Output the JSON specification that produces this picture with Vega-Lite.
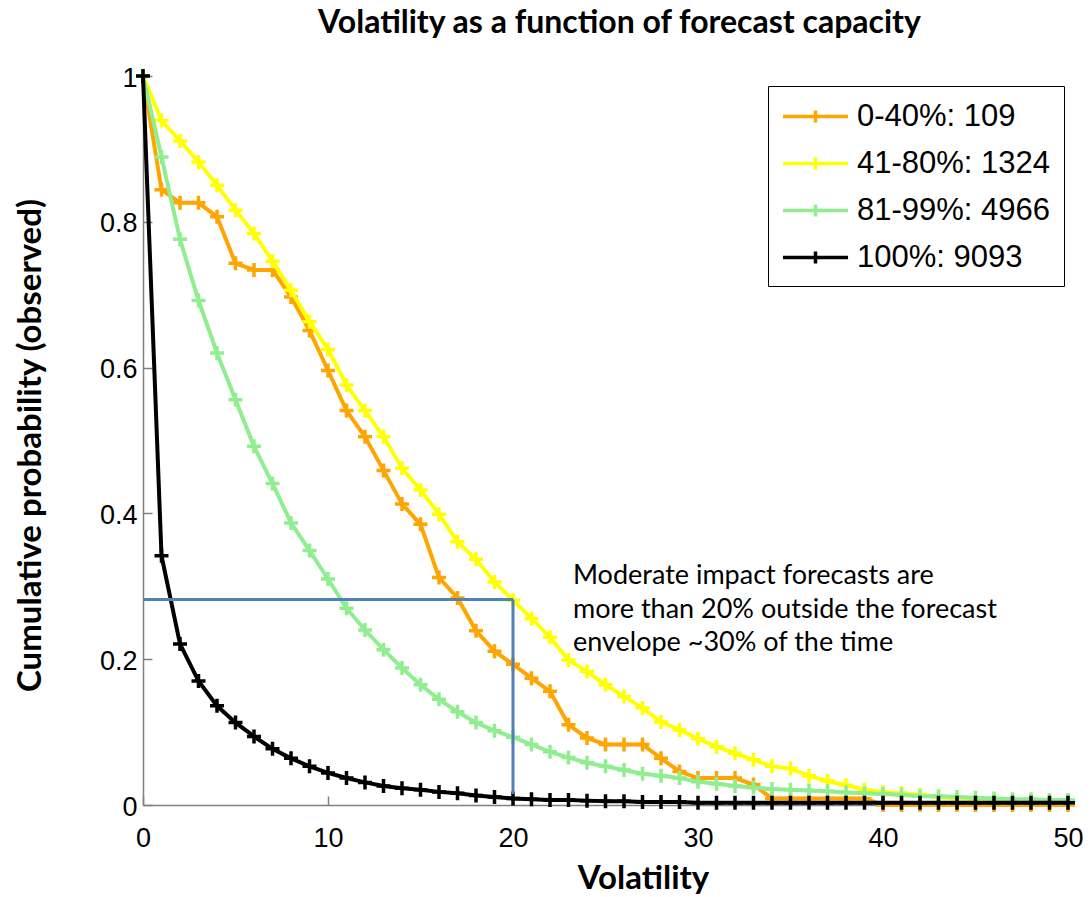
{
  "$schema": "https://vega.github.io/schema/vega-lite/v6.json",
  "width": 925,
  "height": 729,
  "autosize": {"type": "none"},
  "padding": {"left": 143, "top": 76, "right": 22, "bottom": 92},
  "background": "white",
  "title": {
    "text": "Volatility as a function of forecast capacity",
    "font": "Lato",
    "fontSize": 32,
    "fontWeight": "bold",
    "color": "black",
    "anchor": "middle",
    "frame": "group",
    "baseline": "alphabetic",
    "offset": -3,
    "dx": 14
  },
  "config": {
    "view": {"stroke": null},
    "axis": {
      "grid": false,
      "domainColor": "#808080",
      "domainWidth": 1.5,
      "tickColor": "#808080",
      "tickWidth": 1.5,
      "tickSize": -9,
      "labelFont": "Liberation Sans",
      "labelFontSize": 27,
      "labelColor": "black",
      "labelFlush": false,
      "titleFont": "Lato",
      "titleFontSize": 33,
      "titleFontWeight": "bold",
      "titleColor": "black"
    }
  },
  "datasets": {
    "curves": [
      {"v": 0, "p": 1.0, "g": "0-40%: 109"}, {"v": 1, "p": 0.844, "g": "0-40%: 109"}, {"v": 2, "p": 0.826, "g": "0-40%: 109"}, {"v": 3, "p": 0.826, "g": "0-40%: 109"}, {"v": 4, "p": 0.807, "g": "0-40%: 109"}, {"v": 5, "p": 0.743, "g": "0-40%: 109"}, {"v": 6, "p": 0.734, "g": "0-40%: 109"}, {"v": 7, "p": 0.734, "g": "0-40%: 109"}, {"v": 8, "p": 0.697, "g": "0-40%: 109"}, {"v": 9, "p": 0.651, "g": "0-40%: 109"}, {"v": 10, "p": 0.596, "g": "0-40%: 109"}, {"v": 11, "p": 0.541, "g": "0-40%: 109"}, {"v": 12, "p": 0.505, "g": "0-40%: 109"}, {"v": 13, "p": 0.459, "g": "0-40%: 109"}, {"v": 14, "p": 0.413, "g": "0-40%: 109"}, {"v": 15, "p": 0.385, "g": "0-40%: 109"}, {"v": 16, "p": 0.312, "g": "0-40%: 109"}, {"v": 17, "p": 0.284, "g": "0-40%: 109"}, {"v": 18, "p": 0.239, "g": "0-40%: 109"}, {"v": 19, "p": 0.211, "g": "0-40%: 109"}, {"v": 20, "p": 0.193, "g": "0-40%: 109"}, {"v": 21, "p": 0.174, "g": "0-40%: 109"}, {"v": 22, "p": 0.156, "g": "0-40%: 109"}, {"v": 23, "p": 0.110, "g": "0-40%: 109"}, {"v": 24, "p": 0.092, "g": "0-40%: 109"}, {"v": 25, "p": 0.083, "g": "0-40%: 109"}, {"v": 26, "p": 0.083, "g": "0-40%: 109"}, {"v": 27, "p": 0.083, "g": "0-40%: 109"}, {"v": 28, "p": 0.064, "g": "0-40%: 109"}, {"v": 29, "p": 0.046, "g": "0-40%: 109"}, {"v": 30, "p": 0.037, "g": "0-40%: 109"}, {"v": 31, "p": 0.037, "g": "0-40%: 109"}, {"v": 32, "p": 0.037, "g": "0-40%: 109"}, {"v": 33, "p": 0.028, "g": "0-40%: 109"}, {"v": 34, "p": 0.009, "g": "0-40%: 109"}, {"v": 35, "p": 0.009, "g": "0-40%: 109"}, {"v": 36, "p": 0.009, "g": "0-40%: 109"}, {"v": 37, "p": 0.009, "g": "0-40%: 109"}, {"v": 38, "p": 0.009, "g": "0-40%: 109"}, {"v": 39, "p": 0.009, "g": "0-40%: 109"}, {"v": 40, "p": 0.0, "g": "0-40%: 109"}, {"v": 41, "p": 0.0, "g": "0-40%: 109"}, {"v": 42, "p": 0.0, "g": "0-40%: 109"}, {"v": 43, "p": 0.0, "g": "0-40%: 109"}, {"v": 44, "p": 0.0, "g": "0-40%: 109"}, {"v": 45, "p": 0.0, "g": "0-40%: 109"}, {"v": 46, "p": 0.0, "g": "0-40%: 109"}, {"v": 47, "p": 0.0, "g": "0-40%: 109"}, {"v": 48, "p": 0.0, "g": "0-40%: 109"}, {"v": 49, "p": 0.0, "g": "0-40%: 109"}, {"v": 50, "p": 0.0, "g": "0-40%: 109"},
      {"v": 0, "p": 1.0, "g": "41-80%: 1324"}, {"v": 1, "p": 0.939, "g": "41-80%: 1324"}, {"v": 2, "p": 0.911, "g": "41-80%: 1324"}, {"v": 3, "p": 0.882, "g": "41-80%: 1324"}, {"v": 4, "p": 0.850, "g": "41-80%: 1324"}, {"v": 5, "p": 0.816, "g": "41-80%: 1324"}, {"v": 6, "p": 0.784, "g": "41-80%: 1324"}, {"v": 7, "p": 0.746, "g": "41-80%: 1324"}, {"v": 8, "p": 0.706, "g": "41-80%: 1324"}, {"v": 9, "p": 0.663, "g": "41-80%: 1324"}, {"v": 10, "p": 0.625, "g": "41-80%: 1324"}, {"v": 11, "p": 0.576, "g": "41-80%: 1324"}, {"v": 12, "p": 0.541, "g": "41-80%: 1324"}, {"v": 13, "p": 0.505, "g": "41-80%: 1324"}, {"v": 14, "p": 0.462, "g": "41-80%: 1324"}, {"v": 15, "p": 0.432, "g": "41-80%: 1324"}, {"v": 16, "p": 0.399, "g": "41-80%: 1324"}, {"v": 17, "p": 0.361, "g": "41-80%: 1324"}, {"v": 18, "p": 0.337, "g": "41-80%: 1324"}, {"v": 19, "p": 0.306, "g": "41-80%: 1324"}, {"v": 20, "p": 0.281, "g": "41-80%: 1324"}, {"v": 21, "p": 0.256, "g": "41-80%: 1324"}, {"v": 22, "p": 0.230, "g": "41-80%: 1324"}, {"v": 23, "p": 0.199, "g": "41-80%: 1324"}, {"v": 24, "p": 0.183, "g": "41-80%: 1324"}, {"v": 25, "p": 0.165, "g": "41-80%: 1324"}, {"v": 26, "p": 0.149, "g": "41-80%: 1324"}, {"v": 27, "p": 0.133, "g": "41-80%: 1324"}, {"v": 28, "p": 0.114, "g": "41-80%: 1324"}, {"v": 29, "p": 0.103, "g": "41-80%: 1324"}, {"v": 30, "p": 0.091, "g": "41-80%: 1324"}, {"v": 31, "p": 0.080, "g": "41-80%: 1324"}, {"v": 32, "p": 0.071, "g": "41-80%: 1324"}, {"v": 33, "p": 0.062, "g": "41-80%: 1324"}, {"v": 34, "p": 0.053, "g": "41-80%: 1324"}, {"v": 35, "p": 0.050, "g": "41-80%: 1324"}, {"v": 36, "p": 0.040, "g": "41-80%: 1324"}, {"v": 37, "p": 0.033, "g": "41-80%: 1324"}, {"v": 38, "p": 0.027, "g": "41-80%: 1324"}, {"v": 39, "p": 0.021, "g": "41-80%: 1324"}, {"v": 40, "p": 0.018, "g": "41-80%: 1324"}, {"v": 41, "p": 0.016, "g": "41-80%: 1324"}, {"v": 42, "p": 0.014, "g": "41-80%: 1324"}, {"v": 43, "p": 0.011, "g": "41-80%: 1324"}, {"v": 44, "p": 0.009, "g": "41-80%: 1324"}, {"v": 45, "p": 0.008, "g": "41-80%: 1324"}, {"v": 46, "p": 0.007, "g": "41-80%: 1324"}, {"v": 47, "p": 0.006, "g": "41-80%: 1324"}, {"v": 48, "p": 0.005, "g": "41-80%: 1324"}, {"v": 49, "p": 0.005, "g": "41-80%: 1324"}, {"v": 50, "p": 0.004, "g": "41-80%: 1324"},
      {"v": 0, "p": 1.0, "g": "81-99%: 4966"}, {"v": 1, "p": 0.889, "g": "81-99%: 4966"}, {"v": 2, "p": 0.776, "g": "81-99%: 4966"}, {"v": 3, "p": 0.692, "g": "81-99%: 4966"}, {"v": 4, "p": 0.620, "g": "81-99%: 4966"}, {"v": 5, "p": 0.556, "g": "81-99%: 4966"}, {"v": 6, "p": 0.492, "g": "81-99%: 4966"}, {"v": 7, "p": 0.441, "g": "81-99%: 4966"}, {"v": 8, "p": 0.387, "g": "81-99%: 4966"}, {"v": 9, "p": 0.349, "g": "81-99%: 4966"}, {"v": 10, "p": 0.310, "g": "81-99%: 4966"}, {"v": 11, "p": 0.270, "g": "81-99%: 4966"}, {"v": 12, "p": 0.240, "g": "81-99%: 4966"}, {"v": 13, "p": 0.213, "g": "81-99%: 4966"}, {"v": 14, "p": 0.188, "g": "81-99%: 4966"}, {"v": 15, "p": 0.165, "g": "81-99%: 4966"}, {"v": 16, "p": 0.145, "g": "81-99%: 4966"}, {"v": 17, "p": 0.128, "g": "81-99%: 4966"}, {"v": 18, "p": 0.113, "g": "81-99%: 4966"}, {"v": 19, "p": 0.102, "g": "81-99%: 4966"}, {"v": 20, "p": 0.093, "g": "81-99%: 4966"}, {"v": 21, "p": 0.083, "g": "81-99%: 4966"}, {"v": 22, "p": 0.073, "g": "81-99%: 4966"}, {"v": 23, "p": 0.065, "g": "81-99%: 4966"}, {"v": 24, "p": 0.058, "g": "81-99%: 4966"}, {"v": 25, "p": 0.053, "g": "81-99%: 4966"}, {"v": 26, "p": 0.048, "g": "81-99%: 4966"}, {"v": 27, "p": 0.043, "g": "81-99%: 4966"}, {"v": 28, "p": 0.040, "g": "81-99%: 4966"}, {"v": 29, "p": 0.037, "g": "81-99%: 4966"}, {"v": 30, "p": 0.032, "g": "81-99%: 4966"}, {"v": 31, "p": 0.029, "g": "81-99%: 4966"}, {"v": 32, "p": 0.026, "g": "81-99%: 4966"}, {"v": 33, "p": 0.024, "g": "81-99%: 4966"}, {"v": 34, "p": 0.022, "g": "81-99%: 4966"}, {"v": 35, "p": 0.021, "g": "81-99%: 4966"}, {"v": 36, "p": 0.020, "g": "81-99%: 4966"}, {"v": 37, "p": 0.019, "g": "81-99%: 4966"}, {"v": 38, "p": 0.017, "g": "81-99%: 4966"}, {"v": 39, "p": 0.016, "g": "81-99%: 4966"}, {"v": 40, "p": 0.015, "g": "81-99%: 4966"}, {"v": 41, "p": 0.014, "g": "81-99%: 4966"}, {"v": 42, "p": 0.012, "g": "81-99%: 4966"}, {"v": 43, "p": 0.012, "g": "81-99%: 4966"}, {"v": 44, "p": 0.011, "g": "81-99%: 4966"}, {"v": 45, "p": 0.010, "g": "81-99%: 4966"}, {"v": 46, "p": 0.009, "g": "81-99%: 4966"}, {"v": 47, "p": 0.008, "g": "81-99%: 4966"}, {"v": 48, "p": 0.008, "g": "81-99%: 4966"}, {"v": 49, "p": 0.007, "g": "81-99%: 4966"}, {"v": 50, "p": 0.007, "g": "81-99%: 4966"},
      {"v": 0, "p": 1.0, "g": "100%: 9093"}, {"v": 1, "p": 0.342, "g": "100%: 9093"}, {"v": 2, "p": 0.221, "g": "100%: 9093"}, {"v": 3, "p": 0.170, "g": "100%: 9093"}, {"v": 4, "p": 0.136, "g": "100%: 9093"}, {"v": 5, "p": 0.113, "g": "100%: 9093"}, {"v": 6, "p": 0.094, "g": "100%: 9093"}, {"v": 7, "p": 0.077, "g": "100%: 9093"}, {"v": 8, "p": 0.064, "g": "100%: 9093"}, {"v": 9, "p": 0.053, "g": "100%: 9093"}, {"v": 10, "p": 0.044, "g": "100%: 9093"}, {"v": 11, "p": 0.037, "g": "100%: 9093"}, {"v": 12, "p": 0.031, "g": "100%: 9093"}, {"v": 13, "p": 0.026, "g": "100%: 9093"}, {"v": 14, "p": 0.023, "g": "100%: 9093"}, {"v": 15, "p": 0.021, "g": "100%: 9093"}, {"v": 16, "p": 0.018, "g": "100%: 9093"}, {"v": 17, "p": 0.016, "g": "100%: 9093"}, {"v": 18, "p": 0.013, "g": "100%: 9093"}, {"v": 19, "p": 0.011, "g": "100%: 9093"}, {"v": 20, "p": 0.009, "g": "100%: 9093"}, {"v": 21, "p": 0.008, "g": "100%: 9093"}, {"v": 22, "p": 0.007, "g": "100%: 9093"}, {"v": 23, "p": 0.007, "g": "100%: 9093"}, {"v": 24, "p": 0.006, "g": "100%: 9093"}, {"v": 25, "p": 0.005, "g": "100%: 9093"}, {"v": 26, "p": 0.005, "g": "100%: 9093"}, {"v": 27, "p": 0.004, "g": "100%: 9093"}, {"v": 28, "p": 0.004, "g": "100%: 9093"}, {"v": 29, "p": 0.004, "g": "100%: 9093"}, {"v": 30, "p": 0.003, "g": "100%: 9093"}, {"v": 31, "p": 0.003, "g": "100%: 9093"}, {"v": 32, "p": 0.003, "g": "100%: 9093"}, {"v": 33, "p": 0.003, "g": "100%: 9093"}, {"v": 34, "p": 0.003, "g": "100%: 9093"}, {"v": 35, "p": 0.003, "g": "100%: 9093"}, {"v": 36, "p": 0.003, "g": "100%: 9093"}, {"v": 37, "p": 0.003, "g": "100%: 9093"}, {"v": 38, "p": 0.003, "g": "100%: 9093"}, {"v": 39, "p": 0.003, "g": "100%: 9093"}, {"v": 40, "p": 0.003, "g": "100%: 9093"}, {"v": 41, "p": 0.003, "g": "100%: 9093"}, {"v": 42, "p": 0.003, "g": "100%: 9093"}, {"v": 43, "p": 0.003, "g": "100%: 9093"}, {"v": 44, "p": 0.003, "g": "100%: 9093"}, {"v": 45, "p": 0.003, "g": "100%: 9093"}, {"v": 46, "p": 0.003, "g": "100%: 9093"}, {"v": 47, "p": 0.003, "g": "100%: 9093"}, {"v": 48, "p": 0.003, "g": "100%: 9093"}, {"v": 49, "p": 0.003, "g": "100%: 9093"}, {"v": 50, "p": 0.003, "g": "100%: 9093"}
    ],
    "guide": [
      {"x": 0, "y": 0.282, "x2": 20, "y2": 0.282},
      {"x": 20, "y": 0.282, "x2": 20, "y2": 0.015}
    ],
    "note": [
      {"x": 23.24, "y": 0.3027, "t": "Moderate impact forecasts are\nmore than 20% outside the forecast\nenvelope ~30% of the time"}
    ]
  },
  "encoding": {
    "x": {
      "field": "v", "type": "quantitative",
      "scale": {"domain": [0, 50], "nice": false, "zero": false},
      "axis": {
        "values": [0, 10, 20, 30, 40, 50], "format": "d",
        "labelBaseline": "alphabetic",
        "labelPadding": 50,
        "title": "Volatility",
        "titleX": 500, "titleY": 83, "titleBaseline": "alphabetic", "titleAlign": "center"
      }
    },
    "y": {
      "field": "p", "type": "quantitative",
      "scale": {"domain": [0, 1], "nice": false},
      "axis": {
        "values": [0, 0.2, 0.4, 0.6, 0.8, 1], "format": "~g",
        "labelPadding": 15,
        "labelOffset": 2,
        "title": "Cumulative probability (observed)",
        "titleX": -103, "titleY": 369, "titleAngle": 270, "titleBaseline": "alphabetic", "titleAlign": "center"
      }
    }
  },
  "layer": [
    {
      "data": {"name": "curves"},
      "transform": [{"filter": "datum.g === '0-40%: 109'"}],
      "mark": {"type": "line", "strokeWidth": 4, "point": {"shape": "M-1,0H1M0,-1V1", "filled": false, "size": 196, "strokeWidth": 3.5}},
      "encoding": {
        "color": {
          "field": "g", "type": "nominal",
          "scale": {"domain": ["0-40%: 109", "41-80%: 1324", "81-99%: 4966", "100%: 9093"], "range": ["#FFA500", "#FFFF00", "#90EE90", "#000000"]},
          "legend": {
            "title": null, "orient": "none", "legendX": 625, "legendY": 10,
            "strokeColor": "black", "fillColor": "white", "padding": 13,
            "labelFont": "Liberation Sans", "labelFontSize": 31, "labelColor": "black", "labelLimit": 400,
            "symbolType": "M-2.1,0H2.1M0,-0.39V0.39", "symbolSize": 961, "symbolStrokeWidth": 3.5,
            "symbolOffset": 17,
            "rowPadding": 14, "labelOffset": 24
          }
        }
      }
    },
    {
      "data": {"name": "curves"},
      "transform": [{"filter": "datum.g === '41-80%: 1324'"}],
      "mark": {"type": "line", "strokeWidth": 4, "point": {"shape": "M-1,0H1M0,-1V1", "filled": false, "size": 196, "strokeWidth": 3.5}},
      "encoding": {"color": {"field": "g", "type": "nominal"}}
    },
    {
      "data": {"name": "curves"},
      "transform": [{"filter": "datum.g === '81-99%: 4966'"}],
      "mark": {"type": "line", "strokeWidth": 4, "point": {"shape": "M-1,0H1M0,-1V1", "filled": false, "size": 196, "strokeWidth": 3.5}},
      "encoding": {"color": {"field": "g", "type": "nominal"}}
    },
    {
      "data": {"name": "curves"},
      "transform": [{"filter": "datum.g === '100%: 9093'"}],
      "mark": {"type": "line", "strokeWidth": 4, "point": {"shape": "M-1,0H1M0,-1V1", "filled": false, "size": 196, "strokeWidth": 3.5}},
      "encoding": {"color": {"field": "g", "type": "nominal"}}
    },
    {
      "data": {"name": "guide"},
      "mark": {"type": "rule", "color": "#4F81BD", "strokeWidth": 3},
      "encoding": {
        "x": {"field": "x", "type": "quantitative"},
        "y": {"field": "y", "type": "quantitative"},
        "x2": {"field": "x2"},
        "y2": {"field": "y2"}
      }
    },
    {
      "data": {"name": "note"},
      "mark": {"type": "text", "align": "left", "baseline": "alphabetic", "lineBreak": "\n", "lineHeight": 33.5, "font": "Lato", "fontSize": 27, "color": "black"},
      "encoding": {
        "x": {"field": "x", "type": "quantitative"},
        "y": {"field": "y", "type": "quantitative"},
        "text": {"field": "t"}
      }
    }
  ]
}
